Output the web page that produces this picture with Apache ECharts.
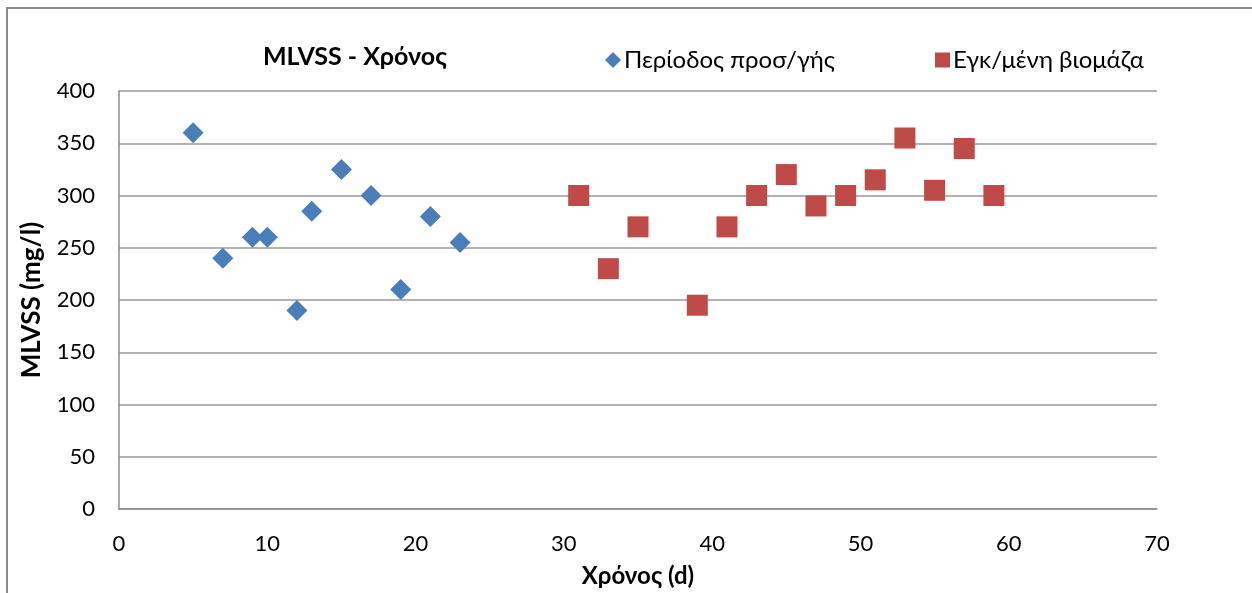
<!DOCTYPE html>
<html>
<head>
<meta charset="utf-8">
<script src="https://cdn.jsdelivr.net/npm/echarts@6/dist/echarts.min.js"></script>
<style>
  html, body { margin: 0; padding: 0; background: #fff; }
  #chart { width: 1252px; height: 593px; }
</style>
</head>
<body>
<div id="chart"></div>
<script>
// MLVSS over time: start-up period vs. established biomass
const seriesNames = ['Περίοδος προσ/γής', 'Εγκ/μένη βιομάζα'];

const startupDays = [5, 7, 9, 10, 12, 13, 15, 17, 19, 21, 23];
const startupMlvss = [360, 240, 260, 260, 190, 285, 325, 300, 210, 280, 255];

const establishedDays = [31, 33, 35, 39, 41, 43, 45, 47, 49, 51, 53, 55, 57, 59];
const establishedMlvss = [300, 230, 270, 195, 270, 300, 320, 290, 300, 315, 355, 305, 345, 300];

const xTicks = [0, 10, 20, 30, 40, 50, 60, 70];
const yTicks = [0, 50, 100, 150, 200, 250, 300, 350, 400];

const FONT = 'Lato';
const BLUE = '#4a7ebb';
const RED = '#be4b48';

const pairs = (xs, ys) => xs.map((x, i) => [x, ys[i]]);

const chart = echarts.init(document.getElementById('chart'));
chart.setOption({
  animation: false,
  textStyle: { fontFamily: FONT, color: '#000' },
  title: {
    text: 'MLVSS - Χρόνος',
    left: 350,
    top: 39,
    textAlign: 'center',
    textStyle: { fontFamily: FONT, fontSize: 25, fontWeight: 'bold', color: '#000' }
  },
  legend: [
    {
      data: [{ name: seriesNames[0], icon: 'diamond' }],
      left: 600, top: 43,
      itemWidth: 16, itemHeight: 16, itemGap: 0,
      textStyle: { fontFamily: FONT, fontSize: 24, color: '#000', padding: [0, 0, 0, -2] }
    },
    {
      data: [{ name: seriesNames[1], icon: 'rect' }],
      left: 930, top: 43,
      itemWidth: 15, itemHeight: 15, itemGap: 0,
      textStyle: { fontFamily: FONT, fontSize: 24, color: '#000', padding: [0, 0, 0, -2] }
    }
  ],
  grid: { left: 119, right: 95, top: 91, bottom: 83 },
  xAxis: {
    type: 'value',
    min: xTicks[0], max: xTicks[xTicks.length - 1], interval: 10,
    name: 'Χρόνος (d)',
    nameLocation: 'middle',
    nameGap: 55,
    nameTextStyle: { fontFamily: FONT, fontSize: 24, fontWeight: 'bold', color: '#000' },
    axisLine: { show: true, lineStyle: { color: '#8c8c8c', width: 1.5 } },
    axisTick: { show: false },
    axisLabel: { fontFamily: FONT, fontSize: 22, color: '#000', margin: 24 },
    splitLine: { show: false }
  },
  yAxis: {
    type: 'value',
    min: yTicks[0], max: yTicks[yTicks.length - 1], interval: 50,
    name: 'MLVSS (mg/l)',
    nameLocation: 'middle',
    nameGap: 74,
    nameTextStyle: { fontFamily: FONT, fontSize: 26, fontWeight: 'bold', color: '#000' },
    axisLine: { show: true, lineStyle: { color: '#8c8c8c', width: 1.5 } },
    axisTick: { show: false },
    axisLabel: { fontFamily: FONT, fontSize: 22, color: '#000', margin: 24 },
    splitLine: { show: true, lineStyle: { color: '#9a9a9a', width: 1.5 } }
  },
  series: [
    {
      name: seriesNames[0],
      type: 'scatter',
      symbol: 'diamond',
      symbolSize: 21,
      itemStyle: { color: BLUE, opacity: 1 },
      data: pairs(startupDays, startupMlvss)
    },
    {
      name: seriesNames[1],
      type: 'scatter',
      symbol: 'rect',
      symbolSize: 21,
      itemStyle: { color: RED, opacity: 1 },
      data: pairs(establishedDays, establishedMlvss)
    }
  ],
  graphic: [
    {
      type: 'rect',
      shape: { x: 7, y: 8, width: 1260, height: 620 },
      style: { fill: 'none', stroke: '#8a8a8a', lineWidth: 2 },
      silent: true
    }
  ]
});
</script>
</body>
</html>
